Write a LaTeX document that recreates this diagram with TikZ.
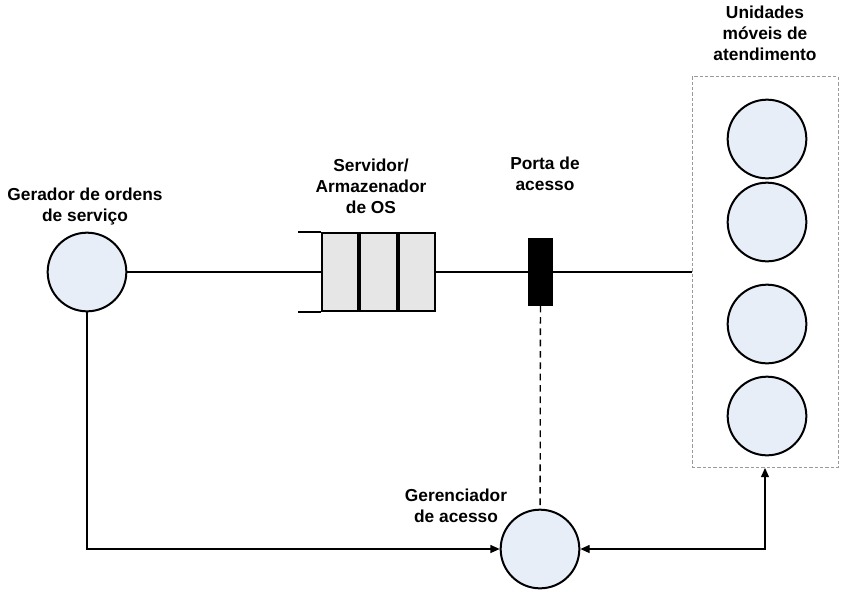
\documentclass[tikz,border=0pt]{standalone}
\usepackage{fontspec}
\setmainfont{Liberation Sans}
\usepackage{xcolor}
\usepackage{tikz}
\usetikzlibrary{shapes,arrows.meta,positioning}

\definecolor{unitfill}{HTML}{E8EEF8}
\definecolor{cellfill}{HTML}{E6E6E6}
\definecolor{boxgray}{HTML}{9A9A9A}

\begin{document}
\begin{tikzpicture}[x=0.75pt, y=-0.75pt, line width=1pt,
    >={Triangle[length=7pt,width=6pt]},
    unit/.style={draw, circle, line width=1.5pt, fill=unitfill, inner sep=0pt, minimum size=59pt},
    cell/.style={draw, rectangle, line width=1.5pt, fill=cellfill, inner sep=0pt, minimum width=27.25pt, minimum height=59pt},
    lbl/.style={align=center, anchor=base, inner sep=0pt, font=\fontsize{13}{15.4}\selectfont\bfseries}]
    \useasboundingbox (0,0) rectangle (846,594);
    % Nodes
    \node[unit] (gen) at (87,272) {};
    \node[cell] (q1) at (340,272) {};
    \node[cell, right=0pt of q1] (q2) {};
    \node[cell, right=0pt of q2] (q3) {};
    \node[draw, rectangle, fill=black, inner sep=0pt, minimum width=17.25pt, minimum height=49.5pt] (port) at (540.5,272) {};
    \node[draw=boxgray, dashed, dash pattern=on 2.5pt off 1.5pt, line width=0.6pt, rectangle, inner sep=0pt, minimum width=109.5pt, minimum height=293.25pt] (units) at (765,272) {};
    \node[unit] (u1) at (767,139) {};
    \node[unit] (u2) at (767,222) {};
    \node[unit] (u3) at (767,324) {};
    \node[unit] (u4) at (767,416) {};
    \node[unit] (mgr) at (540,549) {};

    % Labels (anchored at the baseline of the last line)
    \node[lbl] (genlbl) at (85,221) {Gerador de ordens\\de serviço};
    \node[lbl] (srvlbl) at (371,213) {Servidor/\\Armazenador\\de OS};
    \node[lbl] (portlbl) at (545,190) {Porta de\\acesso};
    \node[lbl] (unitslbl) at (765,60) {Unidades\\móveis de\\atendimento};
    \node[lbl] (mgrlbl) at (456,522) {Gerenciador\\de acesso};

    % Queue ends
    \draw[line width=1.5pt] (q1.north west) -- ++(-23,0);
    \draw[line width=1.5pt] (q1.south west) -- ++(-23,0);

    % Arrows
    \draw (gen) -- (q1);
    \draw (q3) -- (port);
    \draw (port) -- (units);
    \draw[dashed, dash pattern=on 5pt off 3.5pt] (port) -- (mgr);
    \draw[->] (gen) |- (mgr);
    \draw[<->] (mgr) -| (units);
\end{tikzpicture}
\end{document}
